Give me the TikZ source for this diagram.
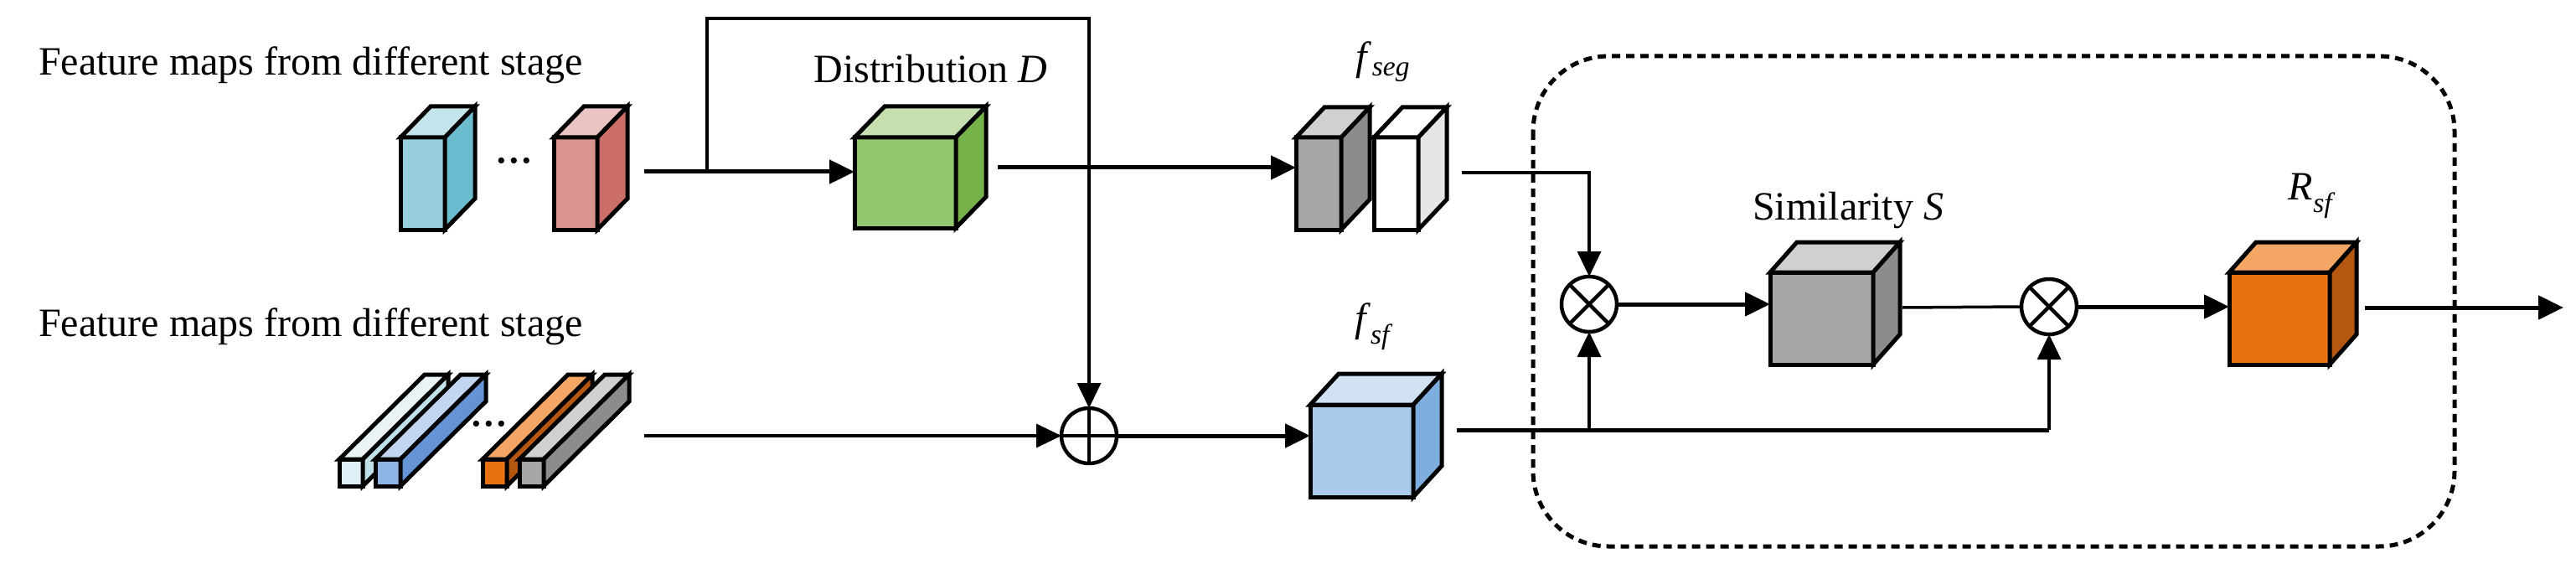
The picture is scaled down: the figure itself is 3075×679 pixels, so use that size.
\documentclass[tikz,border=0pt]{standalone}
\usepackage{fontspec}
\setmainfont{Liberation Serif}
\usetikzlibrary{arrows.meta,calc}
% front face is a named node; top and side are filled polygons
\newcommand{\featcube}[9]{%
  \node[face, fill=#6, minimum width=#4pt, minimum height=#5pt] (#1) at (#2,#3) {};
  \filldraw[face, fill=#8] (#1.north west) -- ++(#9) -- ++(#4,0) -- (#1.north east) -- cycle;
  \filldraw[face, fill=#7] (#1.north east) -- ++(#9) -- ++(0,#5) -- (#1.south east) -- cycle;
}
\definecolor{cyanF}{HTML}{96CFDB}\definecolor{cyanS}{HTML}{6BBCCE}\definecolor{cyanT}{HTML}{C3E4EA}
\definecolor{redF}{HTML}{DA9490}\definecolor{redS}{HTML}{CD6F69}\definecolor{redT}{HTML}{EAC4C2}
\definecolor{grnF}{HTML}{92C56E}\definecolor{grnS}{HTML}{76B24A}\definecolor{grnT}{HTML}{C5DFB0}
\definecolor{gryF}{HTML}{A6A6A6}\definecolor{gryS}{HTML}{8C8C8C}\definecolor{gryT}{HTML}{D0D0D0}
\definecolor{whtS}{HTML}{E6E6E6}
\definecolor{bluF}{HTML}{A9CBE9}\definecolor{bluS}{HTML}{7EAEDF}\definecolor{bluT}{HTML}{D0E2F2}
\definecolor{orgF}{HTML}{E8720F}\definecolor{orgS}{HTML}{B55710}\definecolor{orgT}{HTML}{F4A764}
\definecolor{ltF}{HTML}{DEEFF5}\definecolor{ltS}{HTML}{C0E1EA}\definecolor{ltT}{HTML}{EAF4F7}
\definecolor{bbF}{HTML}{8FB5E6}\definecolor{bbS}{HTML}{6594D6}\definecolor{bbT}{HTML}{C3D6EF}
\newcommand{\sub}[1]{\textsubscript{\textit{#1}}}
\begin{document}
\begin{tikzpicture}
      [x=1pt,y=-1pt
      ,face/.style={draw=black,line width=5pt,inner sep=0pt,outer sep=0pt,line join=miter}
      ,lab/.style={font=\fontsize{48}{58}\selectfont,inner sep=0pt}
      ,dots/.style={font=\fontsize{44}{50}\selectfont\bfseries,inner sep=0pt}
      ,thick/.style={line width=5pt}
      ,thin/.style={line width=3.5pt}
      ,arr/.style={-{Triangle[length=30pt,width=28pt]}}
      ,op/.style={circle,draw=black,line width=4.5pt,minimum size=66pt,inner sep=0pt,outer sep=0pt}
      ,dashbox/.style={line width=5pt,dash pattern=on 10pt off 7pt,rounded corners=90pt}
      ]
        \useasboundingbox (0,0) rectangle (3075,679);
        % texts
        \node[lab] (t1) at (371,78) {Feature maps from different stage};
        \node[lab] (t2) at (371,390) {Feature maps from different stage};
        \node[lab] (tD) at (1111,82) {Distribution \textit{D}};
        \node[lab] (tseg) at (1651,74) {\textit{f}\sub{seg}};
        \node[lab] (tsf) at (1640,390) {\textit{f}\sub{sf}};
        \node[lab] (tS) at (2206,251) {Similarity \textit{S}};
        \node[lab] (tR) at (2760,234) {\textit{R}\sub{sf}};
        % cubes
        \featcube{cyan}{504.5}{219}{53}{110}{cyanF}{cyanS}{cyanT}{36,-37}
        \featcube{red}{687}{219}{52}{110}{redF}{redS}{redT}{36,-37}
        \node[dots] (dots1) at (614,197) {···};
        \featcube{green}{1080.5}{218}{121}{108}{grnF}{grnS}{grnT}{36,-37}
        \featcube{seg1}{1574}{219}{54}{110}{gryF}{gryS}{gryT}{34,-36}
        \featcube{seg2}{1666.5}{219}{53}{110}{white}{whtS}{white}{34,-36}
        \featcube{fsf}{1625.5}{538}{123}{110}{bluF}{bluS}{bluT}{34,-37}
        \featcube{sim}{2174.5}{380}{123}{110}{gryF}{gryS}{gryT}{32,-36}
        \featcube{rsf}{2721}{380}{120}{110}{orgF}{orgS}{orgT}{32,-36}
        % bars
        \featcube{bar1}{419}{564}{28}{32}{ltF}{ltS}{ltT}{102,-101}
        \featcube{bar2}{463}{564}{30}{32}{bbF}{bbS}{bbT}{102,-101}
        \node[dots] (dots2) at (584,511) {···};
        \featcube{bar3}{590.5}{564}{29}{32}{orgF}{orgS}{orgT}{102,-101}
        \featcube{bar4}{634.5}{564}{29}{32}{gryF}{gryS}{gryT}{102,-101}
        % operators
        \node[op] (plus) at (1300,520) {};
        \draw[line width=4.5pt] (plus.north) -- (plus.south) (plus.west) -- (plus.east);
        \node[op] (ot1) at (1897,363) {};
        \draw[line width=4.5pt] (ot1.north west) -- (ot1.south east) (ot1.north east) -- (ot1.south west);
        \node[op] (ot2) at (2446,366) {};
        \draw[line width=4.5pt] (ot2.north west) -- (ot2.south east) (ot2.north east) -- (ot2.south west);
        % connectors
        \coordinate (tin) at (769,205);
        \coordinate (br) at (844,205);
        \coordinate (tr) at (1300,22);
        \draw[thick,arr] (tin) -- (tin -| green.west);
        \draw[thin,arr] (br) |- (tr) -- (plus.north);
        \coordinate (gout) at (1191,200);
        \draw[thick,arr] (gout) -- (gout -| seg1.west);
        \coordinate (bin) at (769,520);
        \draw[thin,arr] (bin) -- (plus.west);
        \draw[thick,arr] (plus.east) -- (plus.east -| fsf.west);
        \coordinate (sout) at (1745,206);
        \draw[thin,arr] (sout) -| (ot1.north);
        \draw[thick,arr] (ot1.east) -- (ot1.east -| sim.west);
        \coordinate (simout) at (2271,367);
        \draw[thin] (simout) -- (ot2.west);
        \draw[thick,arr] (ot2.east) -- (ot2.east -| rsf.west);
        \coordinate (rout) at (2823,367);
        \coordinate (rend) at (3060,367);
        \draw[thick,arr] (rout) -- (rend);
        \coordinate (fout) at (1739,513);
        \draw[thick] (fout) -- (fout -| ot2);
        \draw[thin,arr] (fout -| ot2) -- (ot2.south);
        \draw[thin,arr] (fout -| ot1) -- (ot1.south);
        % module frame
        \draw[dashbox] (1830,67) rectangle (2930,652);
      \end{tikzpicture}
\end{document}
